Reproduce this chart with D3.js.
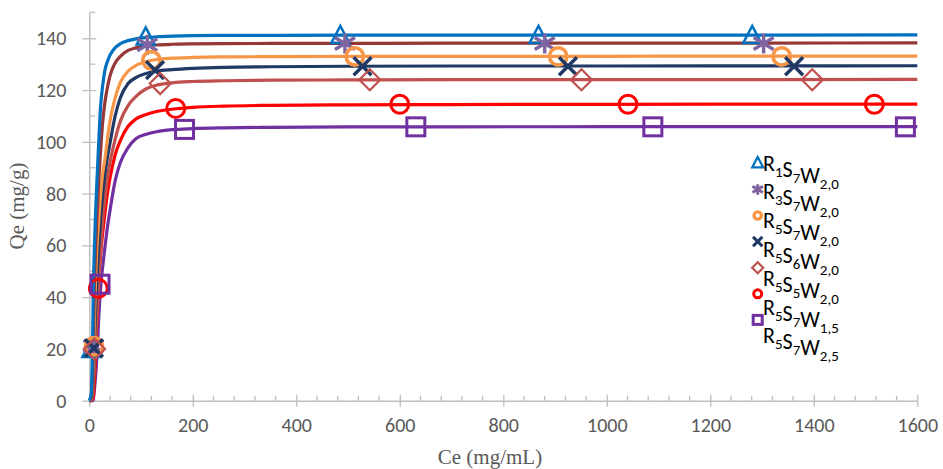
<!DOCTYPE html>
<html>
<head>
<meta charset="utf-8">
<script src="https://cdn.jsdelivr.net/npm/d3@7"></script>
<style>
body { margin: 0; background: #fff; }
svg { display: block; }
.tk text { font-family: Carlito, Calibri, Lato, sans-serif; font-size: 20px; fill: #595959; }
.ttl { font-family: "Liberation Serif", "Times New Roman", serif; font-size: 21px; fill: #595959; }
.lg { font-family: Carlito, Calibri, Lato, sans-serif; font-size: 22px; fill: #000; }
</style>
</head>
<body>
<div id="chart"></div>
<script>
// tick values
var xTicks = [0, 200, 400, 600, 800, 1000, 1200, 1400, 1600];
var yTicks = [0, 20, 40, 60, 80, 100, 120, 140];

// fitted curves
var ceFit = [0, 4, 6, 8, 10, 12, 15, 18, 22, 26, 30, 35, 40, 50, 60, 75, 90, 110, 130, 160, 200, 260, 350, 500, 700, 1000, 1300, 1600];
var fitBlue   = [0, 3, 18, 45, 60, 72, 86, 99, 114, 122, 127.5, 131, 133.5, 136.4, 137.9, 139.1, 139.8, 140.3, 140.6, 140.8, 141, 141.1, 141.15, 141.2, 141.2, 141.25, 141.25, 141.3];
var fitDkRed  = [0, 1, 8, 28, 46, 58, 72, 84, 97, 108, 115, 121, 125.5, 130.5, 133, 135.3, 136.3, 137, 137.4, 137.7, 137.85, 137.95, 138, 138.05, 138.1, 138.1, 138.15, 138.2];
var fitOrange = [0, 0.5, 5, 18, 32, 46, 60, 69, 80, 88, 93, 101, 108, 117, 123, 127.3, 129.5, 131, 131.8, 132.3, 132.6, 132.8, 132.9, 133, 133, 133.05, 133.1, 133.1];
var fitNavy   = [0, 0.3, 3, 12, 24, 35, 48, 59, 71, 80, 87, 94, 99.5, 110, 117, 122.5, 124.8, 126.4, 127.3, 127.9, 128.4, 128.8, 129, 129.2, 129.3, 129.3, 129.35, 129.4];
var fitSalmon = [0, 0.2, 2, 7, 14, 22, 34, 45, 58, 70, 78, 86, 92, 101, 108, 114, 117.5, 120.5, 121.9, 122.8, 123.3, 123.6, 123.8, 123.9, 124, 124, 124.05, 124.1];
var fitRed    = [0, 0, 0.5, 2, 8, 18, 32, 47, 57, 65, 72, 80, 86, 95, 100.5, 106, 108.8, 110.6, 111.7, 112.6, 113.3, 113.8, 114.1, 114.3, 114.4, 114.5, 114.55, 114.6];
var fitPurple = [0, 0, 0, 1, 4.5, 9, 18, 31, 44, 52, 59, 67, 73.5, 85, 92, 97.8, 101.2, 102.9, 103.9, 104.7, 105.1, 105.4, 105.6, 105.75, 105.8, 105.85, 105.9, 105.9];

// measured points
var ceR1S7W20 = [4, 109, 485, 868, 1281];
var qeR1S7W20 = [19.5, 140.2, 140.8, 140.8, 140.8];
var ceR3S7W20 = [8, 112, 494, 880, 1303];
var qeR3S7W20 = [21, 137.5, 138, 138, 138];
var ceR5S7W20 = [9, 120, 513, 906, 1338];
var qeR5S7W20 = [21, 131.5, 133, 133, 133];
var ceR5S6W20 = [9, 127, 528, 925, 1362];
var qeR5S6W20 = [20.3, 127.7, 129.2, 129.2, 129.2];
var ceR5S5W20 = [10, 137, 542, 951, 1397];
var qeR5S5W20 = [20, 122.5, 124, 124, 124];
var ceRedPts = [17.4, 167, 600, 1041, 1517];
var qeRedPts = [43.4, 112.9, 114.5, 114.5, 114.5];
var cePurplePts = [20.7, 184, 631, 1089, 1577];
var qePurplePts = [45, 104.8, 105.8, 105.8, 105.8];

var legendLabels = ["R1S7W2,0", "R3S7W2,0", "R5S7W2,0", "R5S6W2,0", "R5S5W2,0", "R5S7W1,5", "R5S7W2,5"];

var W = 943, H = 469;
var svg = d3.select("#chart").append("svg").attr("width", W).attr("height", H);

var x = d3.scaleLinear().domain([0, 1600]).range([89.3, 917.3]);
var y = d3.scaleLinear().domain([0, 150]).range([400.7, 12.4]);
var axisColor = "#bfbfbf";

// minor ticks
var xMinor = d3.range(0, 1601, 40).filter(function(d) { return d % 200 !== 0; });
var yMinor = d3.range(10, 151, 20);
svg.append("g").selectAll("line").data(xMinor).enter().append("line")
  .attr("x1", function(d) { return x(d); }).attr("x2", function(d) { return x(d); })
  .attr("y1", y(0) - 5).attr("y2", y(0))
  .attr("stroke", axisColor).attr("stroke-width", 1.3);
svg.append("g").selectAll("line").data(yMinor).enter().append("line")
  .attr("y1", function(d) { return y(d); }).attr("y2", function(d) { return y(d); })
  .attr("x1", x(0)).attr("x2", x(0) + 6)
  .attr("stroke", axisColor).attr("stroke-width", 1.3);

// axes
var xAxis = svg.append("g").attr("class", "tk").attr("transform", "translate(0," + y(0) + ")")
  .call(d3.axisBottom(x).tickValues(xTicks).tickFormat(d3.format("d"))
    .tickSize(6).tickPadding(19).tickSizeOuter(0));
xAxis.selectAll(".tick line").attr("y1", -6);
var yAxis = svg.append("g").attr("class", "tk").attr("transform", "translate(" + x(0) + ",0)")
  .call(d3.axisLeft(y).tickValues(yTicks).tickSize(7).tickPadding(16).tickSizeOuter(0));
yAxis.selectAll(".tick line").attr("x1", 7);
svg.selectAll(".tk .domain").attr("stroke", axisColor).attr("stroke-width", 1.5);
svg.selectAll(".tk .tick line").attr("stroke", axisColor).attr("stroke-width", 1.3);
svg.selectAll(".tk text").attr("fill", "#595959");
xAxis.selectAll("text").attr("dy", "0.3em");

svg.append("text").attr("class", "ttl").attr("x", 490).attr("y", 464)
  .attr("text-anchor", "middle").text("Ce (mg/mL)");
svg.append("text").attr("class", "ttl")
  .attr("transform", "translate(24,206) rotate(-90)")
  .attr("text-anchor", "middle").text("Qe (mg/g)");

// fitted lines
var fits = [
  { q: fitBlue,   c: "#0070c0" },
  { q: fitDkRed,  c: "#953735" },
  { q: fitOrange, c: "#f79646" },
  { q: fitNavy,   c: "#1f3864" },
  { q: fitSalmon, c: "#c0504d" },
  { q: fitRed,    c: "#ff0000" },
  { q: fitPurple, c: "#7030a0" }
];
var line = d3.line()
  .x(function(d) { return x(d[0]); })
  .y(function(d) { return y(d[1]); })
  .curve(d3.curveMonotoneX);
fits.slice().reverse().forEach(function(f) {
  svg.append("path")
    .attr("d", line(ceFit.map(function(c, i) { return [c, f.q[i]]; })))
    .attr("fill", "none").attr("stroke", f.c).attr("stroke-width", 3.2)
    .attr("stroke-linejoin", "round");
});

// marker drawers
function drawMarker(g, type, color, s) {
  var h = s / 2;
  if (type === "tri") {
    g.append("path").attr("d", "M0," + (-h * 1.15) + "L" + h + "," + (h * 0.75) + "L" + (-h) + "," + (h * 0.75) + "Z")
      .attr("fill", "none").attr("stroke", color).attr("stroke-width", s > 12 ? 2.5 : 2.2);
  } else if (type === "star") {
    var a = h * 0.95;
    g.append("path").attr("d", "M" + (-a) + "," + (-a * 0.6) + "L" + a + "," + (a * 0.6) +
        "M" + (-a) + "," + (a * 0.6) + "L" + a + "," + (-a * 0.6) + "M0," + (-a) + "L0," + a)
      .attr("stroke", color).attr("stroke-width", s > 12 ? 3.5 : 3);
  } else if (type === "circ") {
    g.append("circle").attr("r", h - 1.8).attr("fill", "none").attr("stroke", color).attr("stroke-width", s > 12 ? 3.6 : 3.2);
  } else if (type === "x") {
    var b = h * 0.85;
    g.append("path").attr("d", "M" + (-b) + "," + (-b) + "L" + b + "," + b + "M" + (-b) + "," + b + "L" + b + "," + (-b))
      .attr("stroke", color).attr("stroke-width", s > 12 ? 3.5 : 3);
  } else if (type === "dia") {
    g.append("path").attr("d", "M0," + (-h) + "L" + h + ",0L0," + h + "L" + (-h) + ",0Z")
      .attr("fill", "none").attr("stroke", color).attr("stroke-width", 2.2);
  } else if (type === "circR") {
    g.append("circle").attr("r", h - 1.5).attr("fill", "none").attr("stroke", color).attr("stroke-width", 3);
  } else if (type === "sq") {
    g.append("rect").attr("x", -h + 1.5).attr("y", -h + 1.5).attr("width", s - 3).attr("height", s - 3)
      .attr("fill", "none").attr("stroke", color).attr("stroke-width", 3);
  }
}

var pts = [
  { ce: ceR1S7W20, qe: qeR1S7W20, t: "tri",   c: "#0070c0", s: 18 },
  { ce: ceR3S7W20, qe: qeR3S7W20, t: "star",  c: "#8064a2", s: 21 },
  { ce: ceR5S7W20, qe: qeR5S7W20, t: "circ",  c: "#f79646", s: 21 },
  { ce: ceR5S6W20, qe: qeR5S6W20, t: "x",     c: "#1f3864", s: 21 },
  { ce: ceR5S5W20, qe: qeR5S5W20, t: "dia",   c: "#c0504d", s: 21 },
  { ce: ceRedPts,  qe: qeRedPts,  t: "circR", c: "#ff0000", s: 21 },
  { ce: cePurplePts, qe: qePurplePts, t: "sq", c: "#7030a0", s: 21 }
];
pts.forEach(function(p) {
  p.ce.forEach(function(c, i) {
    var g = svg.append("g").attr("transform", "translate(" + x(c) + "," + y(p.qe[i]) + ")");
    drawMarker(g, p.t, p.c, p.s);
  });
});

// legend
var lg = svg.append("g");
pts.forEach(function(p, i) {
  var g = lg.append("g").attr("transform", "translate(757.7," + (163.3 + i * 26.1) + ")");
  drawMarker(g, p.t, p.c, p.t === "sq" ? 12 : 11);
});
legendLabels.forEach(function(lab, i) {
  var t = lg.append("text").attr("class", "lg").attr("x", 763).attr("y", 170.5 + i * 28.8);
  var parts = lab.match(/[A-Z][0-9,]+/g);
  parts.forEach(function(pt) {
    t.append("tspan").text(pt[0]);
    t.append("tspan").attr("font-size", "15px").attr("dy", 6).text(pt.slice(1));
    t.append("tspan").attr("dy", -6).text("");
  });
});
</script>
</body>
</html>
